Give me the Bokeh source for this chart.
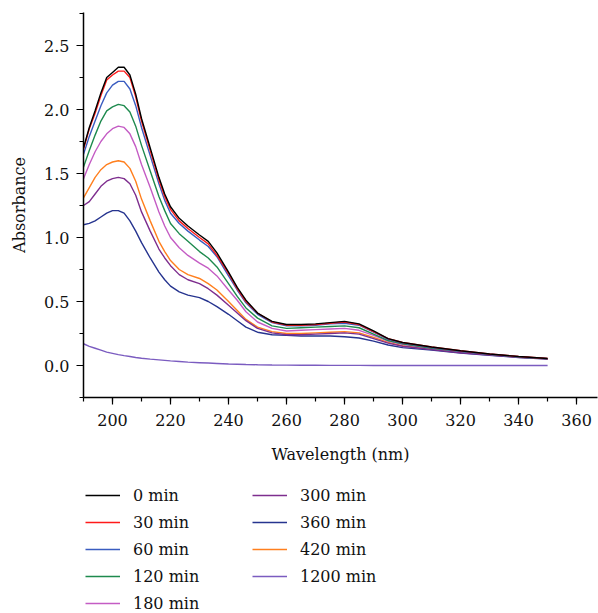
from bokeh.plotting import figure
from bokeh.layouts import column
from bokeh.models import Range1d, SingleIntervalTicker, Legend, LegendItem, PrintfTickFormatter
from bokeh.embed import file_html
from bokeh.resources import INLINE

wavelength = [190, 192, 194, 196, 198, 200, 202, 204, 206, 208, 210, 213, 216, 218, 220,
              223, 226, 230, 233, 236, 240, 243, 246, 250, 255, 260, 265, 270, 275, 280,
              285, 290, 295, 300, 310, 320, 330, 340, 350]

abs_0 = [1.70, 1.86, 1.99, 2.13, 2.25, 2.29, 2.33, 2.33, 2.27, 2.12, 1.93, 1.70, 1.47, 1.34, 1.24,
         1.15, 1.09, 1.02, 0.97, 0.88, 0.73, 0.61, 0.51, 0.41, 0.345, 0.32, 0.32, 0.325, 0.335, 0.345,
         0.325, 0.27, 0.21, 0.18, 0.145, 0.115, 0.09, 0.07, 0.055]
abs_30 = [1.69, 1.85, 1.97, 2.11, 2.23, 2.27, 2.30, 2.30, 2.25, 2.10, 1.91, 1.68, 1.45, 1.32, 1.22,
          1.13, 1.07, 1.00, 0.95, 0.86, 0.72, 0.60, 0.50, 0.41, 0.34, 0.315, 0.315, 0.32, 0.33, 0.34,
          0.32, 0.265, 0.21, 0.18, 0.145, 0.115, 0.09, 0.07, 0.055]
abs_60 = [1.65, 1.79, 1.91, 2.03, 2.13, 2.19, 2.22, 2.22, 2.16, 2.03, 1.86, 1.64, 1.42, 1.29, 1.19,
          1.11, 1.05, 0.98, 0.93, 0.85, 0.70, 0.59, 0.49, 0.40, 0.335, 0.31, 0.31, 0.315, 0.325, 0.33,
          0.315, 0.26, 0.205, 0.175, 0.14, 0.11, 0.088, 0.068, 0.054]
abs_120 = [1.55, 1.68, 1.80, 1.91, 1.99, 2.02, 2.04, 2.03, 1.98, 1.87, 1.72, 1.52, 1.32, 1.21, 1.11,
           1.03, 0.97, 0.89, 0.84, 0.77, 0.64, 0.54, 0.45, 0.37, 0.31, 0.29, 0.295, 0.30, 0.305, 0.31,
           0.295, 0.245, 0.195, 0.17, 0.135, 0.11, 0.087, 0.067, 0.054]
abs_180 = [1.46, 1.57, 1.67, 1.75, 1.81, 1.85, 1.87, 1.86, 1.81, 1.71, 1.57, 1.39, 1.20, 1.09, 1.00,
           0.92, 0.86, 0.80, 0.76, 0.70, 0.59, 0.51, 0.42, 0.34, 0.29, 0.27, 0.275, 0.28, 0.285, 0.29,
           0.275, 0.235, 0.19, 0.165, 0.135, 0.11, 0.087, 0.067, 0.054]
abs_300 = [1.25, 1.28, 1.34, 1.40, 1.44, 1.46, 1.47, 1.46, 1.42, 1.33, 1.20, 1.05, 0.91, 0.84, 0.78,
           0.71, 0.67, 0.64, 0.60, 0.55, 0.47, 0.41, 0.35, 0.29, 0.255, 0.24, 0.24, 0.245, 0.25, 0.255,
           0.245, 0.21, 0.175, 0.15, 0.125, 0.10, 0.082, 0.064, 0.052]
abs_360 = [1.10, 1.11, 1.13, 1.16, 1.19, 1.21, 1.21, 1.19, 1.13, 1.05, 0.96, 0.84, 0.73, 0.67, 0.62,
           0.575, 0.55, 0.53, 0.50, 0.46, 0.40, 0.35, 0.30, 0.26, 0.24, 0.235, 0.23, 0.23, 0.23, 0.225,
           0.215, 0.19, 0.16, 0.14, 0.12, 0.098, 0.08, 0.063, 0.05]
abs_420 = [1.31, 1.39, 1.47, 1.53, 1.57, 1.59, 1.60, 1.59, 1.54, 1.44, 1.30, 1.13, 0.97, 0.89, 0.82,
           0.75, 0.71, 0.68, 0.64, 0.59, 0.50, 0.43, 0.36, 0.30, 0.265, 0.25, 0.25, 0.255, 0.26, 0.265,
           0.255, 0.22, 0.18, 0.155, 0.13, 0.105, 0.085, 0.066, 0.052]
abs_1200 = [0.17, 0.15, 0.135, 0.12, 0.105, 0.095, 0.085, 0.077, 0.07, 0.063, 0.057, 0.05, 0.044, 0.04, 0.036,
            0.031, 0.026, 0.022, 0.019, 0.016, 0.012, 0.01, 0.008, 0.006, 0.004, 0.003, 0.002, 0.002, 0.001, 0.001,
            0.001, 0.0, 0.0, 0.0, 0.0, 0.0, 0.0, 0.0, 0.0]

labels = ["0 min", "30 min", "60 min", "120 min", "180 min", "300 min", "360 min", "420 min", "1200 min"]
series = [abs_0, abs_30, abs_60, abs_120, abs_180, abs_300, abs_360, abs_420, abs_1200]
colors = ["#000000", "#ff1a1a", "#3a5cc0", "#1e8a4e", "#c45cc4", "#7e2e8e", "#26348f", "#ff7f1e", "#7b5cc0"]

FONT = "DejaVu Serif"

# ---- main plot ----
p = figure(width=598, height=470, output_backend="svg", toolbar_location=None,
           x_range=Range1d(190, 367.2), y_range=Range1d(-0.25, 2.758),
           min_border_left=83, min_border_right=1, min_border_top=12, min_border_bottom=73)
p.outline_line_color = None
p.xgrid.visible = False
p.ygrid.visible = False

for lab, ys, col in reversed(list(zip(labels, series, colors))):
    p.line(wavelength, ys, line_color=col, line_width=1.4)

p.xaxis.ticker = SingleIntervalTicker(interval=20, num_minor_ticks=2)
p.yaxis.ticker = SingleIntervalTicker(interval=0.5, num_minor_ticks=2)
p.yaxis.formatter = PrintfTickFormatter(format="%.1f")
p.xaxis.axis_label = "Wavelength (nm)"
p.yaxis.axis_label = "Absorbance"
for ax in (p.xaxis[0], p.yaxis[0]):
    ax.axis_line_width = 1.5
    ax.axis_line_color = "black"
    ax.major_tick_line_color = "black"
    ax.minor_tick_line_color = "black"
    ax.major_tick_line_width = 1.2
    ax.minor_tick_line_width = 1.2
    ax.major_tick_in = 0
    ax.minor_tick_in = 0
    ax.major_tick_out = 7
    ax.minor_tick_out = 4
    ax.major_label_text_font = FONT
    ax.major_label_text_font_size = "16px"
    ax.major_label_text_color = "#111111"
    ax.axis_label_text_font = FONT
    ax.axis_label_text_font_size = "16px"
    ax.axis_label_text_font_style = "normal"
    ax.axis_label_text_color = "#111111"
p.xaxis.major_label_standoff = 9
p.xaxis.axis_label_standoff = 16
p.yaxis.major_label_standoff = 7
p.yaxis.axis_label_standoff = 12

# ---- legend panel (separate figure; its renderers hold a single point, so draw no line) ----
lf = figure(width=598, height=143, output_backend="svg", toolbar_location=None,
            x_range=Range1d(0, 1), y_range=Range1d(0, 1),
            x_axis_location=None, y_axis_location=None,
            min_border_left=0, min_border_right=0, min_border_top=0, min_border_bottom=0)
lf.outline_line_color = None
lf.xgrid.visible = False
lf.ygrid.visible = False

items = []
for lab, ys, col in zip(labels, series, colors):
    r = lf.line(x=wavelength[:1], y=ys[:1], line_color=col, line_width=1.4)
    items.append(LegendItem(label=lab, renderers=[r]))

legend = Legend(items=items, location=(2, 0), orientation="vertical", ncols=2)
legend.border_line_color = None
legend.background_fill_alpha = 0
legend.padding = 0
legend.margin = 0
legend.spacing = 7
legend.glyph_width = 35
legend.glyph_height = 20
legend.label_height = 20
legend.label_width = 112
legend.label_standoff = 13
legend.label_text_font = FONT
legend.label_text_font_size = "16px"
legend.label_text_color = "#111111"
lf.add_layout(legend, "center")

layout = column(p, lf, spacing=0)

open("out.html", "w").write(file_html(layout, INLINE))
